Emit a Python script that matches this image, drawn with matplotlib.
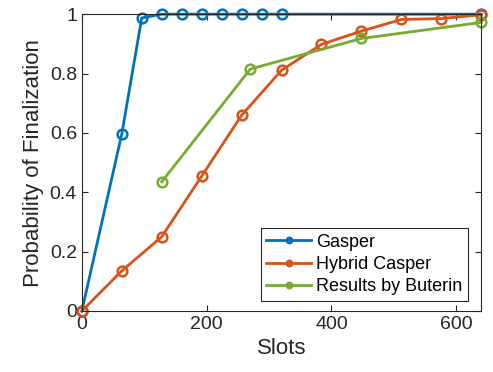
import matplotlib
matplotlib.use("Agg")
import matplotlib.pyplot as plt

gasper_x = [0, 64, 96, 128, 160, 192, 224, 256, 288, 320, 640]
gasper_y = [0, 0.596, 0.987, 1, 1, 1, 1, 1, 1, 1, 1]

hybrid_x = [0, 64, 128, 192, 256, 320, 384, 448, 512, 576, 640]
hybrid_y = [0, 0.135, 0.25, 0.454, 0.659, 0.811, 0.898, 0.943, 0.982, 0.985, 0.998]

buterin_x = [128, 270, 448, 640]
buterin_y = [0.435, 0.815, 0.918, 0.972]

plt.rcParams["font.family"] = ["Liberation Sans", "DejaVu Sans"]

fig = plt.figure(figsize=(4.93, 3.72), dpi=100)
ax = fig.add_axes([0.166, 0.164, 0.81, 0.798])

style = dict(marker="o", markersize=7, markerfacecolor="none",
             markeredgewidth=1.8, linewidth=2, clip_on=False)
ax.plot(gasper_x, gasper_y, color="#0072BD", label="Gasper", **style)
ax.plot(hybrid_x, hybrid_y, color="#D95319", label="Hybrid Casper", **style)
ax.plot(buterin_x, buterin_y, color="#77AC30", label="Results by Buterin", **style)

ax.set_xlim(0, 640)
ax.set_ylim(0, 1)
ax.set_xticks([0, 200, 400, 600])
ax.set_yticks([0, 0.2, 0.4, 0.6, 0.8, 1])
ax.set_yticklabels(["0", "0.2", "0.4", "0.6", "0.8", "1"])
ax.tick_params(direction="in", top=True, right=True, labelsize=14,
               colors="#262626", length=4)
for s in ax.spines.values():
    s.set_color("#262626")
    s.set_linewidth(0.8)

ax.set_xlabel("Slots", fontsize=16, color="#262626", labelpad=4)
ax.set_ylabel("Probability of Finalization", fontsize=16, color="#262626")

leg = ax.legend(loc="lower right", fontsize=13, fancybox=False, framealpha=1,
                edgecolor="#262626", handlelength=2.5, markerscale=0.55,
                borderpad=0.3, labelspacing=0.3, handletextpad=0.25,
                borderaxespad=0, bbox_to_anchor=(0.966, 0.034))
leg.get_frame().set_linewidth(0.8)

fig.savefig("out.png", dpi=100)
